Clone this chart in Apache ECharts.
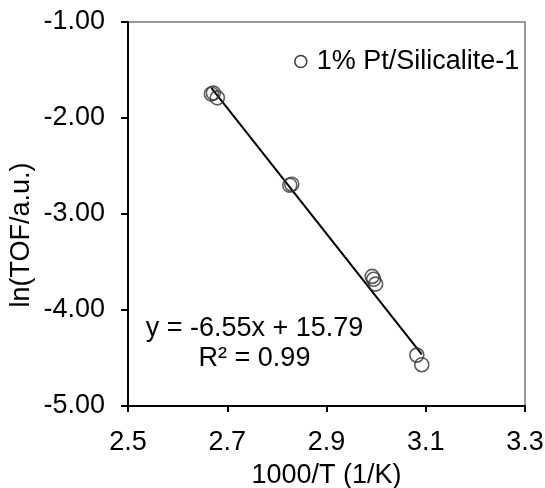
<!DOCTYPE html>
<html>
<head>
<meta charset="utf-8">
<script src="https://cdn.jsdelivr.net/npm/echarts@6/dist/echarts.min.js"></script>
<style>html,body{margin:0;padding:0;background:#fff}#c{width:545px;height:488px}</style>
</head>
<body>
<div id="c"></div>
<script>
const seriesName = '1% Pt/Silicalite-1';
const xTicks = [2.5, 2.7, 2.9, 3.1, 3.3];
const xValues = [2.668, 2.672, 2.680, 2.826, 2.830, 2.992, 2.995, 2.999, 3.082, 3.092];
const yValues = [-1.75, -1.74, -1.79, -2.70, -2.69, -3.65, -3.68, -3.73, -4.47, -4.57];
const fitSlope = -6.55;
const fitIntercept = 15.79;
const eqText = 'y = -6.55x + 15.79';
const r2Text = 'R² = 0.99';
const xName = '1000/T (1/K)';
const yName = 'ln(TOF/a.u.)';

const FONT = 'Liberation Sans, Arial, sans-serif';
const FS = 27;
const pts = xValues.map((x, i) => [x, yValues[i]]);
const xmin = Math.min(...xValues), xmax = Math.max(...xValues);
const fit = [[xmin, fitSlope * xmin + fitIntercept], [xmax, fitSlope * xmax + fitIntercept]];

const chart = echarts.init(document.getElementById('c'), null, {renderer: 'canvas'});
chart.setOption({
  animation: false,
  backgroundColor: '#fff',
  grid: {left: 128, top: 22, right: 20, bottom: 82, containLabel: false, outerBoundsMode: 'none',
         show: true, borderColor: '#9a9a9a', borderWidth: 2, backgroundColor: 'transparent'},
  legend: {
    data: [{name: seriesName, icon: 'circle'}],
    left: 294, top: 48, padding: 0,
    itemWidth: 22, itemHeight: 12, itemGap: 5,
    itemStyle: {color: '#fff', borderColor: '#111', borderWidth: 1.6},
    textStyle: {fontFamily: FONT, fontSize: FS, color: '#000'}
  },
  xAxis: {
    type: 'value', min: 2.5, max: 3.3,
    axisLine: {show: true, onZero: false, lineStyle: {color: '#000', width: 2}},
    axisTick: {show: true, length: 6, customValues: xTicks, lineStyle: {color: '#000', width: 2}},
    axisLabel: {customValues: xTicks, formatter: v => v.toFixed(1), fontFamily: FONT, fontSize: FS, color: '#000', margin: 23},
    splitLine: {show: false},
    name: xName, nameLocation: 'middle', nameGap: 56,
    nameTextStyle: {fontFamily: FONT, fontSize: FS, color: '#000'}
  },
  yAxis: {
    type: 'value', min: -5, max: -1, interval: 1,
    axisLine: {show: true, onZero: false, lineStyle: {color: '#000', width: 2}},
    axisTick: {show: true, length: 7, lineStyle: {color: '#000', width: 2}},
    axisLabel: {formatter: v => v.toFixed(2), fontFamily: FONT, fontSize: FS, color: '#000', margin: 23},
    splitLine: {show: false}
  },
  graphic: [
    {type: 'text', x: 22, y: 235, rotation: Math.PI / 2,
     style: {text: yName, font: FS + 'px ' + FONT, fill: '#000', textAlign: 'center', textVerticalAlign: 'middle'}},
    {type: 'text', x: 254.5, y: 329,
     style: {text: eqText, font: FS + 'px ' + FONT, fill: '#000', textAlign: 'center', textVerticalAlign: 'middle'}},
    {type: 'text', x: 254.5, y: 359,
     style: {text: r2Text, font: FS + 'px ' + FONT, fill: '#000', textAlign: 'center', textVerticalAlign: 'middle'}}
  ],
  series: [
    {name: 'fit', type: 'line', data: fit, symbol: 'none', lineStyle: {color: '#000', width: 2}, z: 3, silent: true},
    {name: seriesName, type: 'scatter', data: pts, symbol: 'circle', symbolSize: 14,
     itemStyle: {color: 'rgba(255,255,255,0)', borderColor: '#333', borderWidth: 1.6}, z: 4}
  ]
});
</script>
</body>
</html>
